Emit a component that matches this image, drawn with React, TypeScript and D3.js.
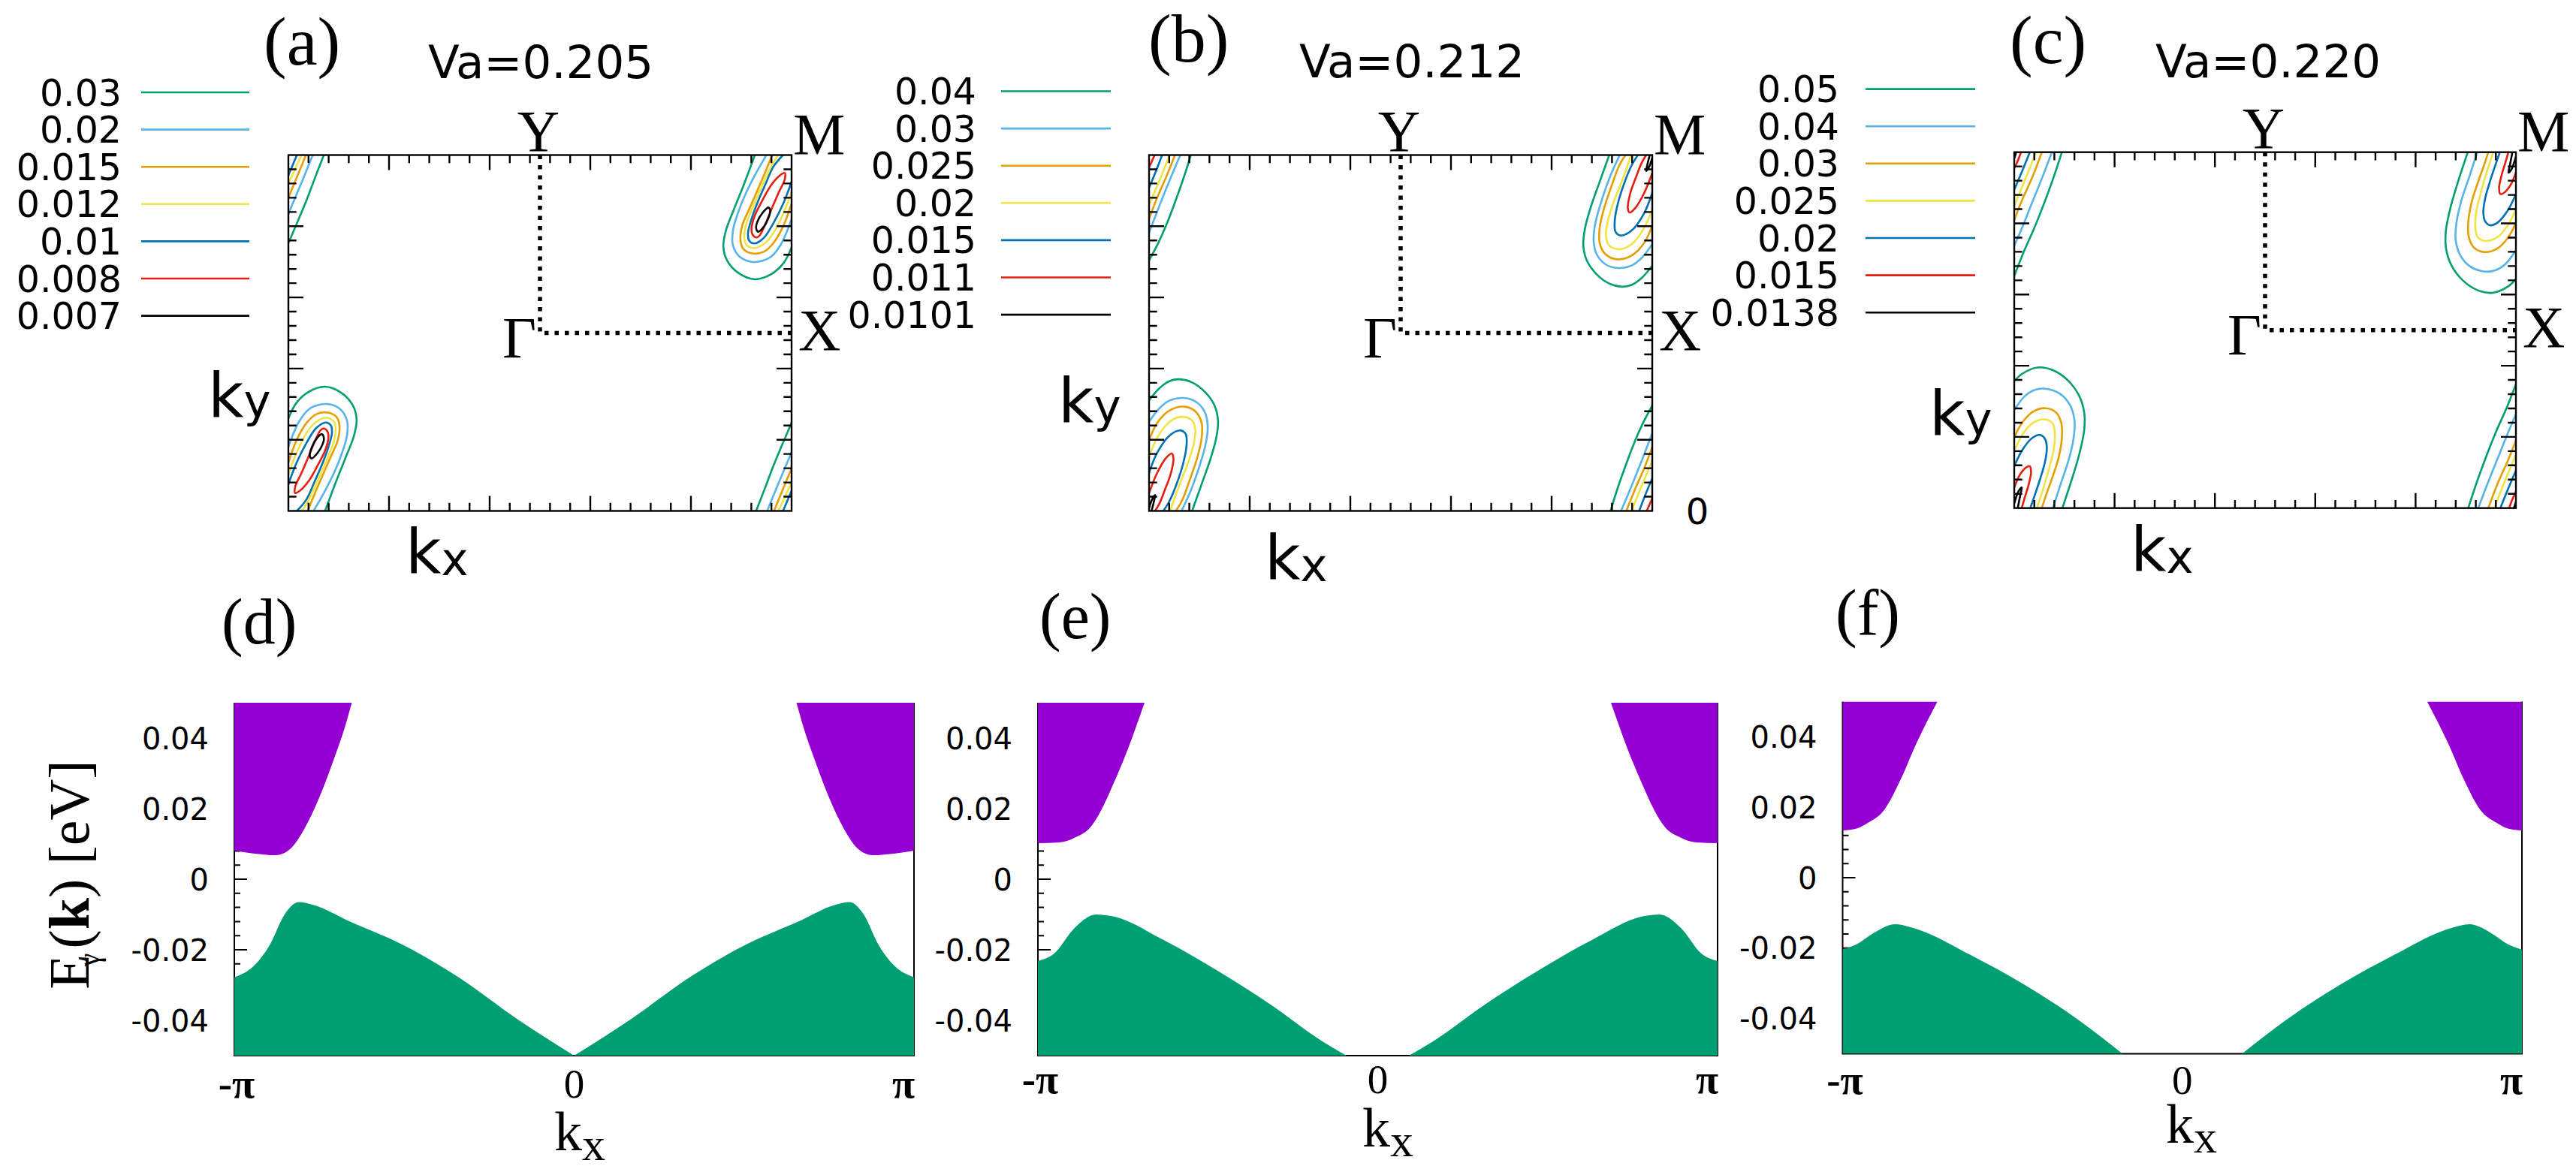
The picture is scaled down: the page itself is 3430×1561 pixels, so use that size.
import * as d3 from "d3";

type Pt = [number, number];

// ---------- data (kx/π, ky/π for contours; kx/π, E [eV] for bands) ----------
const levelColors = ["#009e73", "#56b4e9", "#e69f00", "#f0e442", "#0072b2", "#e51e10", "#000000"];

const levelsA = ["0.03", "0.02", "0.015", "0.012", "0.01", "0.008", "0.007"];
const levelsB = ["0.04", "0.03", "0.025", "0.02", "0.015", "0.011", "0.0101"];
const levelsC = ["0.05", "0.04", "0.03", "0.025", "0.02", "0.015", "0.0138"];
const vaLabels = ["Va=0.205", "Va=0.212", "Va=0.220"];

// pocket near (-π,-π) for each level; the one near (π,π) is its inversion image
const pocketA: Pt[][] = [
  [[-1, -0.48], [-0.968, -0.393], [-0.918, -0.33], [-0.854, -0.302], [-0.789, -0.337], [-0.744, -0.407], [-0.729, -0.485], [-0.739, -0.576], [-0.769, -0.688], [-0.809, -0.829], [-0.854, -1]],
  [[-1, -0.639], [-0.958, -0.499], [-0.918, -0.428], [-0.879, -0.404], [-0.839, -0.4], [-0.794, -0.428], [-0.767, -0.492], [-0.767, -0.576], [-0.787, -0.675], [-0.819, -0.787], [-0.859, -0.899], [-0.9, -1]],
  [[-1, -0.728], [-0.968, -0.604], [-0.928, -0.506], [-0.889, -0.456], [-0.844, -0.447], [-0.809, -0.471], [-0.797, -0.52], [-0.804, -0.604], [-0.834, -0.703], [-0.864, -0.801], [-0.894, -0.899], [-0.923, -1]],
  [[-1, -0.794], [-0.968, -0.674], [-0.928, -0.562], [-0.889, -0.499], [-0.847, -0.477], [-0.819, -0.499], [-0.812, -0.541], [-0.821, -0.618], [-0.849, -0.717], [-0.879, -0.815], [-0.913, -0.921], [-0.946, -1]],
  [[-1, -0.85], [-0.968, -0.731], [-0.928, -0.618], [-0.889, -0.534], [-0.851, -0.503], [-0.831, -0.52], [-0.827, -0.562], [-0.839, -0.632], [-0.864, -0.731], [-0.894, -0.829], [-0.928, -0.935], [-0.966, -1]],
  [[-0.859, -0.537], [-0.844, -0.555], [-0.841, -0.59], [-0.854, -0.66], [-0.884, -0.745], [-0.918, -0.829], [-0.953, -0.885], [-0.973, -0.899], [-0.973, -0.864], [-0.948, -0.787], [-0.918, -0.688], [-0.889, -0.59], [-0.871, -0.545]],
  [[-0.867, -0.569], [-0.859, -0.59], [-0.864, -0.625], [-0.884, -0.674], [-0.908, -0.705], [-0.915, -0.688], [-0.906, -0.639], [-0.886, -0.59]],
];
// pieces entering at the top edge near kx=-π (periodic continuation)
const edgeA: Pt[][] = [
  [[-0.859, 1], [-0.894, 0.873], [-0.928, 0.746], [-0.963, 0.627], [-1, 0.504]],
  [[-0.903, 1], [-0.95, 0.838], [-1, 0.669]],
  [[-0.93, 1], [-0.963, 0.887], [-1, 0.76]],
  [[-0.948, 1], [-0.973, 0.922], [-1, 0.838]],
  [[-0.966, 1], [-1, 0.887]],
];

const pocketB: Pt[][] = [
  [[-1, -0.379], [-0.958, -0.309], [-0.918, -0.27], [-0.879, -0.26], [-0.829, -0.278], [-0.779, -0.33], [-0.74, -0.407], [-0.726, -0.492], [-0.733, -0.59], [-0.758, -0.717], [-0.793, -0.857], [-0.829, -1]],
  [[-1, -0.499], [-0.958, -0.422], [-0.918, -0.379], [-0.863, -0.365], [-0.814, -0.386], [-0.779, -0.443], [-0.767, -0.52], [-0.774, -0.618], [-0.799, -0.745], [-0.834, -0.885], [-0.871, -1]],
  [[-1, -0.604], [-0.968, -0.506], [-0.918, -0.435], [-0.859, -0.414], [-0.814, -0.443], [-0.791, -0.506], [-0.791, -0.59], [-0.809, -0.703], [-0.839, -0.829], [-0.869, -0.942], [-0.894, -1]],
  [[-1, -0.696], [-0.968, -0.59], [-0.918, -0.499], [-0.869, -0.471], [-0.829, -0.492], [-0.816, -0.548], [-0.824, -0.632], [-0.849, -0.745], [-0.884, -0.871], [-0.916, -1]],
  [[-1, -0.787], [-0.968, -0.674], [-0.918, -0.576], [-0.874, -0.548], [-0.854, -0.569], [-0.851, -0.632], [-0.864, -0.731], [-0.889, -0.843], [-0.918, -0.942], [-0.943, -1]],
  [[-1, -0.899], [-0.968, -0.787], [-0.933, -0.703], [-0.91, -0.677], [-0.903, -0.703], [-0.913, -0.787], [-0.938, -0.885], [-0.958, -0.956], [-0.976, -1]],
  [[-1, -0.984], [-0.988, -0.935], [-0.976, -0.911], [-0.98, -0.942], [-0.99, -1]],
];
const edgeB: Pt[][] = [
  [[-0.834, 1], [-0.859, 0.887], [-0.894, 0.746], [-0.928, 0.619], [-0.963, 0.507], [-1, 0.408]],
  [[-0.876, 1], [-0.918, 0.859], [-0.958, 0.718], [-1, 0.563]],
  [[-0.897, 1], [-0.933, 0.873], [-0.968, 0.76], [-1, 0.641]],
  [[-0.918, 1], [-0.958, 0.859], [-1, 0.718]],
  [[-0.948, 1], [-0.973, 0.908], [-1, 0.816]],
  [[-0.978, 1], [-1, 0.929]],
];

const pocketC: Pt[][] = [
  [[-1, -0.287], [-0.968, -0.245], [-0.908, -0.21], [-0.848, -0.224], [-0.788, -0.28], [-0.743, -0.364], [-0.721, -0.463], [-0.721, -0.561], [-0.739, -0.688], [-0.768, -0.828], [-0.808, -1]],
  [[-1, -0.449], [-0.958, -0.371], [-0.918, -0.336], [-0.878, -0.329], [-0.818, -0.357], [-0.778, -0.421], [-0.76, -0.505], [-0.763, -0.603], [-0.783, -0.73], [-0.813, -0.857], [-0.846, -1]],
  [[-1, -0.603], [-0.968, -0.519], [-0.923, -0.456], [-0.873, -0.439], [-0.833, -0.463], [-0.813, -0.519], [-0.81, -0.603], [-0.823, -0.716], [-0.848, -0.828], [-0.873, -0.927], [-0.89, -1]],
  [[-1, -0.681], [-0.968, -0.589], [-0.923, -0.519], [-0.873, -0.502], [-0.846, -0.526], [-0.838, -0.589], [-0.843, -0.674], [-0.86, -0.772], [-0.883, -0.885], [-0.91, -1]],
  [[-1, -0.765], [-0.968, -0.674], [-0.928, -0.606], [-0.898, -0.589], [-0.878, -0.61], [-0.87, -0.66], [-0.878, -0.744], [-0.898, -0.842], [-0.918, -0.927], [-0.936, -1]],
  [[-1, -0.885], [-0.978, -0.814], [-0.953, -0.772], [-0.938, -0.765], [-0.933, -0.8], [-0.943, -0.871], [-0.958, -0.941], [-0.97, -1]],
  [[-1, -0.975], [-0.983, -0.906], [-0.97, -0.885], [-0.976, -0.927], [-0.986, -1]],
];
const edgeC: Pt[][] = [
  [[-0.81, 1], [-0.843, 0.859], [-0.883, 0.705], [-0.923, 0.564], [-0.963, 0.437], [-1, 0.304]],
  [[-0.85, 1], [-0.888, 0.859], [-0.928, 0.719], [-0.968, 0.578], [-1, 0.473]],
  [[-0.89, 1], [-0.928, 0.859], [-0.968, 0.733], [-1, 0.62]],
  [[-0.913, 1], [-0.953, 0.859], [-1, 0.698]],
  [[-0.938, 1], [-0.968, 0.895], [-1, 0.789]],
  [[-0.973, 1], [-0.986, 0.951], [-1, 0.909]],
  [[-0.992, 1], [-1, 0.965]],
];

// band edges for kx in [-π, 0]; E(k) = E(-k)
const condD: Pt[] = [[-1, 0.0081], [-0.945, 0.0073], [-0.878, 0.0068], [-0.835, 0.0086], [-0.793, 0.0144], [-0.751, 0.0229], [-0.709, 0.0335], [-0.675, 0.043], [-0.654, 0.0501]];
const valD: Pt[] = [[-1, -0.0278], [-0.945, -0.0248], [-0.895, -0.0185], [-0.852, -0.01], [-0.81, -0.0065], [-0.768, -0.0073], [-0.658, -0.0121], [-0.506, -0.0185], [-0.337, -0.028], [-0.167, -0.0397], [0, -0.05]];
const condE: Pt[] = [[-1, 0.0102], [-0.937, 0.0104], [-0.891, 0.0118], [-0.844, 0.0149], [-0.813, 0.0197], [-0.782, 0.0261], [-0.736, 0.0367], [-0.686, 0.0501]];
const valE: Pt[] = [[-1, -0.0232], [-0.953, -0.0211], [-0.891, -0.0137], [-0.829, -0.01], [-0.782, -0.0105], [-0.627, -0.0174], [-0.472, -0.0259], [-0.317, -0.0354], [-0.162, -0.046], [-0.092, -0.05]];
const condF: Pt[] = [[-1, 0.0134], [-0.957, 0.014], [-0.925, 0.0156], [-0.877, 0.0193], [-0.83, 0.0277], [-0.782, 0.0383], [-0.721, 0.05]];
const valF: Pt[] = [[-1, -0.0204], [-0.957, -0.0188], [-0.909, -0.0157], [-0.845, -0.0132], [-0.798, -0.0141], [-0.622, -0.022], [-0.463, -0.0305], [-0.304, -0.0405], [-0.176, -0.05]];

const eTicks = [-0.04, -0.02, 0, 0.02, 0.04];
const eTickLabels = ["-0.04", "-0.02", "0", "0.02", "0.04"];
const kTicks = [-1, 0, 1];
const kTickLabels = ["-π", "0", "π"];

// ---------- layout ----------
const W = 3430;
const H = 1561;
const SANS = "'DejaVu Sans', sans-serif";
const SERIF = "'Liberation Serif', 'Times New Roman', serif";

const topPanels = [
  { id: "a", x0: 384, x1: 1054, y0: 206.5, y1: 680.5, levels: levelsA, pockets: pocketA, edges: edgeA, va: vaLabels[0],
    label: [351, 86], vaPos: [720, 104], ky: [277, 555], kx: [540, 763], legend: { tx: 162, lx0: 188, lx1: 332, ly: 123 } },
  { id: "b", x0: 1530, x1: 2200, y0: 206.5, y1: 680.5, levels: levelsB, pockets: pocketB, edges: edgeB, va: vaLabels[1],
    label: [1529, 82], vaPos: [1880, 103], ky: [1409, 562], kx: [1684, 771], legend: { tx: 1300, lx0: 1333, lx1: 1479, ly: 121.5 } },
  { id: "c", x0: 2682, x1: 3350, y0: 202.7, y1: 676.7, levels: levelsC, pockets: pocketC, edges: edgeC, va: vaLabels[2],
    label: [2676, 84], vaPos: [3020, 103], ky: [2569, 579], kx: [2837, 760], legend: { tx: 2449, lx0: 2484, lx1: 2630, ly: 118.6 } },
];

const bottomPanels = [
  { id: "d", x0: 312, x1: 1217, y0: 936, y1: 1406, cond: condD, val: valD, label: [295, 857], kx: [738, 1532], tickBase: 1462 },
  { id: "e", x0: 1382, x1: 2287, y0: 936, y1: 1406, cond: condE, val: valE, label: [1384, 850], kx: [1814, 1527], tickBase: 1456 },
  { id: "f", x0: 2453.5, x1: 3358, y0: 934.4, y1: 1403.6, cond: condF, val: valF, label: [2444, 845], kx: [2884, 1522], tickBase: 1457 },
];

const invert = (pts: Pt[]): Pt[] => pts.map(([u, v]) => [-u, -v] as Pt);
const onEdge = (p: Pt) => Math.abs(p[0]) > 0.999 || Math.abs(p[1]) > 0.999;

function ContourPanel({ p }: { p: (typeof topPanels)[number] }) {
  const x = d3.scaleLinear().domain([-1, 1]).range([p.x0, p.x1]);
  const y = d3.scaleLinear().domain([-1, 1]).range([p.y1, p.y0]);
  const open = d3.line<Pt>().x(d => x(d[0])).y(d => y(d[1])).curve(d3.curveCatmullRom.alpha(0.5));
  const closed = d3.line<Pt>().x(d => x(d[0])).y(d => y(d[1])).curve(d3.curveCatmullRomClosed.alpha(0.5));
  const path = (pts: Pt[]) => (onEdge(pts[0]) ? open(pts) : closed(pts)) || "";

  const ticks = d3.range(1, 25).map(i => ({ v: -1 + i * 0.08, major: i % 5 === 0 }));
  const tickPaths: string[] = [];
  ticks.forEach(t => {
    const len = t.major ? 20 : 10.7;
    const px = x(t.v);
    const py = y(t.v);
    tickPaths.push(`M${px},${p.y0}v${len}`, `M${px},${p.y1}v${-len}`, `M${p.x0},${py}h${len}`, `M${p.x1},${py}h${-len}`);
  });

  const clipId = `clip-${p.id}`;
  const xc = x(0);
  const yc = y(0);
  const lg = p.legend;

  return (
    <g>
      <defs>
        <clipPath id={clipId}>
          <rect x={p.x0} y={p.y0} width={p.x1 - p.x0} height={p.y1 - p.y0} />
        </clipPath>
      </defs>
      <g clipPath={`url(#${clipId})`} fill="none" strokeWidth={2.6} strokeLinejoin="round">
        {p.pockets.map((pts, i) => (
          <g key={`p${i}`} stroke={levelColors[i]}>
            <path d={path(pts)} />
            <path d={path(invert(pts))} />
          </g>
        ))}
        {p.edges.map((pts, i) => (
          <g key={`e${i}`} stroke={levelColors[i]}>
            <path d={path(pts)} />
            <path d={path(invert(pts))} />
          </g>
        ))}
      </g>
      <path
        d={`M${xc},${y(1)}L${xc},${yc}L${x(1)},${yc}`}
        fill="none"
        stroke="#000"
        strokeWidth={5.5}
        strokeDasharray="5.5 8"
      />
      <rect x={p.x0} y={p.y0} width={p.x1 - p.x0} height={p.y1 - p.y0} fill="none" stroke="#000" strokeWidth={2.4} />
      <path d={tickPaths.join("")} stroke="#000" strokeWidth={2.4} fill="none" />

      {/* symmetry point labels */}
      <g fontFamily={SERIF} fontSize={78} fill="#000">
        <text x={xc - 2} y={p.y0 - 6} textAnchor="middle">Y</text>
        <text x={p.x1 + 2} y={p.y0 - 2}>M</text>
        <text x={p.x1 + 9} y={yc + 22}>X</text>
        <text x={xc - 5} y={yc + 32} textAnchor="end">Γ</text>
      </g>

      <text x={p.label[0]} y={p.label[1]} fontFamily={SERIF} fontSize={92}>{`(${p.id})`}</text>
      <text x={p.vaPos[0]} y={p.vaPos[1]} fontFamily={SANS} fontSize={61} textAnchor="middle">{p.va}</text>
      <text x={p.ky[0]} y={p.ky[1]} fontFamily={SANS} fontSize={82}>k<tspan fontSize={61}>y</tspan></text>
      <text x={p.kx[0]} y={p.kx[1]} fontFamily={SANS} fontSize={82}>k<tspan fontSize={61} dy={3}>x</tspan></text>

      {/* key */}
      <g>
        {p.levels.map((lab, i) => {
          const ly = lg.ly + i * 49.6;
          return (
            <g key={lab}>
              <text x={lg.tx} y={ly + 17.5} fontFamily={SANS} fontSize={49} textAnchor="end">{lab}</text>
              <line x1={lg.lx0} x2={lg.lx1} y1={ly} y2={ly} stroke={levelColors[i]} strokeWidth={2.6} />
            </g>
          );
        })}
      </g>
    </g>
  );
}

function BandPanel({ p }: { p: (typeof bottomPanels)[number] }) {
  const x = d3.scaleLinear().domain([-1, 1]).range([p.x0, p.x1]);
  const y = d3.scaleLinear().domain([-0.05, 0.05]).range([p.y1, p.y0]);
  const mirror = (pts: Pt[]): Pt[] => pts.map(([k, e]) => [-k, e] as Pt).reverse();
  const upper = d3.area<Pt>().x(d => x(d[0])).y0(y(0.05)).y1(d => y(d[1])).curve(d3.curveMonotoneX);
  const lower = d3.area<Pt>().x(d => x(d[0])).y0(y(-0.05)).y1(d => y(d[1])).curve(d3.curveMonotoneX);
  const clipId = `clip-${p.id}`;

  const minor = d3.range(-0.048, 0.0481, 0.004);
  const tickD = minor
    .map(v => {
      const isMajor = Math.abs(Math.round(v / 0.02) * 0.02 - v) < 1e-6;
      return `M${p.x0},${y(v)}h${isMajor ? 17 : 8}`;
    })
    .join("");

  return (
    <g>
      <defs>
        <clipPath id={clipId}>
          <rect x={p.x0} y={p.y0} width={p.x1 - p.x0} height={p.y1 - p.y0} />
        </clipPath>
      </defs>
      <path d={`M${p.x0},${p.y0}V${p.y1}H${p.x1}V${p.y0}`} fill="none" stroke="#000" strokeWidth={2} />
      <path d={tickD} stroke="#000" strokeWidth={2} />
      <g clipPath={`url(#${clipId})`}>
        <path d={upper(p.cond) || ""} fill="#9400d3" />
        <path d={upper(mirror(p.cond)) || ""} fill="#9400d3" />
        <path d={lower(p.val) || ""} fill="#009e73" />
        <path d={lower(mirror(p.val)) || ""} fill="#009e73" />
      </g>

      <g fontFamily={SANS} fontSize={40} textAnchor="end">
        {eTicks.map((v, i) => (
          <text key={v} x={p.x0 - 34} y={y(v) + 14.6}>{eTickLabels[i]}</text>
        ))}
      </g>
      <g fontFamily={SERIF} fontSize={55} textAnchor="middle">
        {kTicks.map((k, i) => {
          const px = k === -1 ? x(k) + 3 : k === 1 ? x(k) - 14 : x(k);
          return (
            <text key={k} x={px} y={p.tickBase} fontWeight={k === 0 ? "normal" : "bold"}>{kTickLabels[i]}</text>
          );
        })}
      </g>
      <text x={p.kx[0]} y={p.kx[1]} fontFamily={SERIF} fontSize={74}>
        k<tspan fontSize={62} dy={13}>x</tspan>
      </text>
      <text x={p.label[0]} y={p.label[1]} fontFamily={SERIF} fontSize={86}>{`(${p.id})`}</text>
    </g>
  );
}

export default function App() {
  return (
    <svg
      width={W}
      height={H}
      viewBox={`0 0 ${W} ${H}`}
      style={{ position: "absolute", left: 0, top: 0, display: "block", background: "#fff" }}
    >
      <rect width={W} height={H} fill="#fff" />
      {topPanels.map(p => (
        <ContourPanel key={p.id} p={p} />
      ))}
      {bottomPanels.map(p => (
        <BandPanel key={p.id} p={p} />
      ))}
      <text x={2260} y={698} fontFamily={SANS} fontSize={48} textAnchor="middle">0</text>
      <text transform="translate(118,1165) rotate(-90)" fontFamily={SERIF} fontSize={76} textAnchor="middle">
        E<tspan fontSize={40} dx={-16} dy={14}>γ</tspan>
        <tspan dx={6} dy={-14}>(</tspan>
        <tspan fontWeight="bold">k</tspan>
        <tspan>) [eV]</tspan>
      </text>
    </svg>
  );
}
